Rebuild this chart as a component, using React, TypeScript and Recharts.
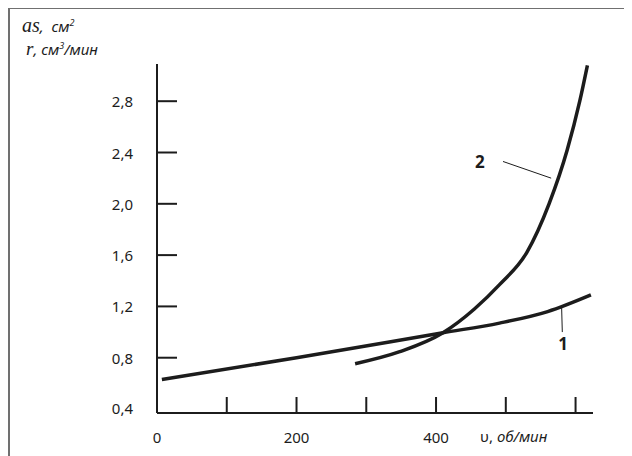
import { LineChart, Line, XAxis, YAxis, ReferenceLine, ReferenceDot } from "recharts";

// curve 1 and curve 2 (x in об/мин)
const curve1X = [7, 200, 410, 491, 560, 622];
const curve1Y = [0.63, 0.8, 0.995, 1.07, 1.16, 1.29];
const curve2X = [284, 348, 410, 455, 491, 530, 562, 588, 606, 617];
const curve2Y = [0.753, 0.847, 0.995, 1.18, 1.37, 1.62, 2.0, 2.42, 2.8, 3.08];

const xTicks = [0, 100, 200, 300, 400, 500, 600];
const xLabelled = [0, 200, 400];
const yTicks = [0.4, 0.8, 1.2, 1.6, 2.0, 2.4, 2.8];

const curve1 = curve1X.map((x, i) => ({ x, y: curve1Y[i] }));
const curve2 = curve2X.map((x, i) => ({ x, y: curve2Y[i] }));

const FONT = "'Noto Sans', 'Open Sans', sans-serif";
const INK = "#1c1c1c";

const fmt = (v: number) => v.toFixed(1).replace(".", ",");

const YTick = ({ x, y, payload }: any) => {
  const v = payload.value as number;
  return (
    <g>
      {v > 0.5 && <line x1={x} x2={x + 20} y1={y} y2={y} stroke={INK} strokeWidth={2} />}
      <text x={x - 24} y={v < 0.5 ? y - 1 : y} textAnchor="end" dominantBaseline="central"
        fontSize={15} fontFamily={FONT} fill={INK}>
        {fmt(v)}
      </text>
    </g>
  );
};

const XTick = ({ x, y, payload }: any) => {
  const v = payload.value as number;
  return (
    <g>
      {v > 0 && <line x1={x} x2={x} y1={y} y2={y - 16} stroke={INK} strokeWidth={2} />}
      {xLabelled.includes(v) && (
        <text x={x} y={y + 24} textAnchor="middle" dominantBaseline="central"
          fontSize={15} fontFamily={FONT} fill={INK}>
          {v}
        </text>
      )}
    </g>
  );
};

const curveLabel = (value: string) => ({
  value,
  position: "center" as const,
  fill: INK,
  fontSize: 17,
  fontWeight: 700,
  fontFamily: FONT,
});

export default function App() {
  return (
    <div style={{ position: "relative", width: 624, height: 448, fontFamily: FONT, color: INK }}>
      <div
        style={{
          position: "absolute", left: 0, top: -1, right: -8, bottom: -8,
          borderTop: "2px solid #707070", borderLeft: "2px solid #707070",
        }}
      />
      <div style={{ position: "absolute", left: 14, top: 6, fontSize: 15, fontStyle: "italic", whiteSpace: "nowrap" }}>
        <span style={{ fontFamily: "'Liberation Serif', serif", fontSize: 20 }}>as</span>,&nbsp; см<sup style={{ fontSize: 9 }}>2</sup>
      </div>
      <div style={{ position: "absolute", left: 18, top: 30, fontSize: 15, fontStyle: "italic", whiteSpace: "nowrap" }}>
        <span style={{ fontFamily: "'Liberation Serif', serif", fontSize: 19 }}>r</span>, см<sup style={{ fontSize: 9 }}>3</sup>/мин
      </div>
      <div style={{ position: "absolute", left: 472, top: 418, fontSize: 15, whiteSpace: "nowrap" }}>
        υ, <i>об/мин</i>
      </div>
      <LineChart width={624} height={448} margin={{ top: 56, right: 39, bottom: 42, left: 148 }}>
        <XAxis
          type="number" dataKey="x" domain={[0, 625]} ticks={xTicks} height={1}
          tickSize={0} tickMargin={0} tickLine={false} tick={<XTick />}
          axisLine={{ stroke: INK, strokeWidth: 2 }} allowDataOverflow
        />
        <YAxis
          type="number" dataKey="y" domain={[0.369, 3.09]} ticks={yTicks} width={1}
          tickSize={0} tickMargin={0} tickLine={false} tick={<YTick />}
          axisLine={{ stroke: INK, strokeWidth: 2 }} allowDataOverflow
        />
        <Line data={curve1} dataKey="y" type="monotone" stroke={INK} strokeWidth={3.5}
          dot={false} isAnimationActive={false} />
        <Line data={curve2} dataKey="y" type="monotone" stroke={INK} strokeWidth={3.5}
          dot={false} isAnimationActive={false} />
        <ReferenceLine segment={[{ x: 496, y: 2.33 }, { x: 565, y: 2.2 }]} stroke={INK} strokeWidth={1} />
        <ReferenceLine segment={[{ x: 580, y: 1.2 }, { x: 581, y: 1.0 }]} stroke={INK} strokeWidth={1} />
        <ReferenceDot x={463} y={2.33} r={0} fill="none" stroke="none" label={curveLabel("2")} />
        <ReferenceDot x={582} y={0.91} r={0} fill="none" stroke="none" label={curveLabel("1")} />
      </LineChart>
    </div>
  );
}
